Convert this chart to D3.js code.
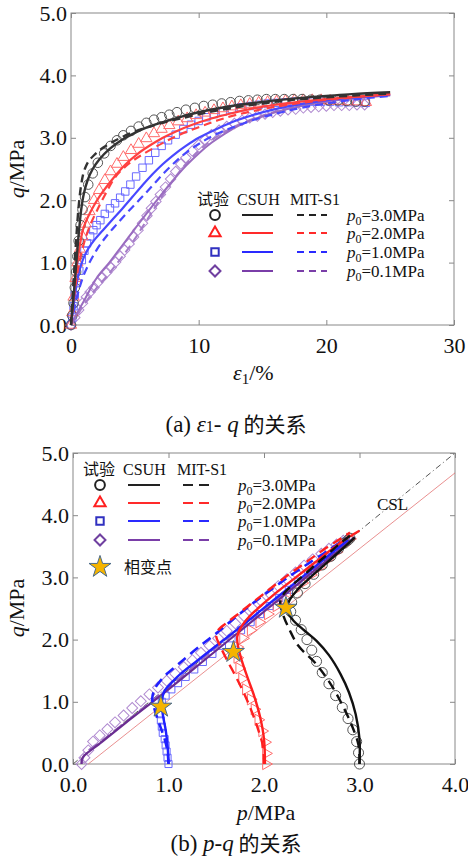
<!DOCTYPE html>
<html>
<head>
<meta charset="utf-8">
<script src="https://cdn.jsdelivr.net/npm/d3@7"></script>
<style>
body{margin:0;background:#fff}
</style>
</head>
<body>
<svg id="graph" width="468" height="860"></svg>
<script>
// ---------- panel (a): eps1 - q ----------
var aTicksX = [0,10,20,30]
var aTicksY = [0,1,2,3,4,5]

var aTest3 = [[0,0],[0.1,0.15],[0.2,0.35],[0.3,0.6],[0.4,0.85],[0.5,1.1],[0.6,1.35],[0.75,1.6],[0.9,1.85],[1.1,2.05],[1.35,2.25],[1.7,2.43],[2.1,2.6],[2.6,2.75],[3.1,2.87],[3.6,2.96],[4.1,3.04],[4.7,3.11],[5.3,3.18],[5.9,3.24],[6.5,3.29],[7.1,3.33],[7.7,3.37],[8.3,3.41],[9.0,3.45],[9.7,3.48],[10.4,3.51],[11.1,3.53],[11.8,3.55],[12.5,3.57],[13.2,3.59],[13.9,3.6],[14.6,3.61],[15.3,3.62],[16.0,3.62],[16.7,3.62],[17.4,3.62],[18.1,3.62],[18.8,3.61],[19.5,3.61],[20.2,3.6],[20.9,3.6],[21.6,3.59],[22.3,3.58],[23.0,3.58]]
var aTest2 = [[0,0],[0.1,0.2],[0.2,0.45],[0.35,0.75],[0.5,1.0],[0.7,1.22],[0.9,1.42],[1.15,1.62],[1.45,1.82],[1.8,2.0],[2.2,2.16],[2.65,2.32],[3.1,2.46],[3.6,2.58],[4.1,2.69],[4.7,2.8],[5.3,2.9],[5.9,2.99],[6.5,3.07],[7.1,3.14],[7.7,3.2],[8.4,3.26],[9.1,3.31],[9.8,3.36],[10.5,3.4],[11.2,3.44],[11.9,3.47],[12.6,3.5],[13.3,3.52],[14.0,3.54],[14.7,3.56],[15.4,3.57],[16.1,3.58],[16.8,3.59],[17.5,3.6],[18.2,3.6],[18.9,3.6],[19.6,3.6],[20.3,3.59],[21.0,3.59],[21.7,3.58],[22.4,3.58],[23.1,3.57]]
var aTest1 = [[0,0],[0.1,0.12],[0.2,0.3],[0.3,0.48],[0.45,0.67],[0.65,0.87],[0.85,1.04],[1.05,1.19],[1.25,1.31],[1.5,1.42],[1.75,1.52],[2.0,1.6],[2.3,1.68],[2.65,1.78],[3.05,1.87],[3.45,1.95],[3.85,2.04],[4.25,2.14],[4.65,2.25],[5.1,2.38],[5.6,2.52],[6.1,2.64],[6.6,2.76],[7.1,2.87],[7.6,2.96],[8.2,3.05],[8.8,3.14],[9.4,3.21],[10.0,3.27],[10.6,3.33],[11.2,3.38],[11.9,3.42],[12.6,3.46],[13.3,3.49],[14.0,3.51],[14.7,3.53],[15.4,3.55],[16.1,3.56],[16.8,3.57],[17.5,3.58],[18.2,3.58],[18.9,3.58],[19.6,3.58],[20.3,3.58],[21.0,3.57],[21.7,3.57],[22.4,3.57],[23.1,3.56]]
var aTest01 = [[0,0],[0.3,0.12],[0.6,0.24],[0.9,0.35],[1.2,0.45],[1.5,0.53],[1.8,0.6],[2.1,0.68],[2.45,0.76],[2.8,0.84],[3.15,0.92],[3.5,1.01],[3.85,1.1],[4.2,1.2],[4.55,1.3],[4.9,1.41],[5.25,1.52],[5.6,1.63],[5.95,1.75],[6.3,1.87],[6.65,1.98],[7.0,2.09],[7.4,2.21],[7.8,2.34],[8.2,2.46],[8.6,2.58],[9.0,2.68],[9.5,2.79],[10.0,2.89],[10.5,2.97],[11.0,3.05],[11.6,3.12],[12.2,3.18],[12.8,3.23],[13.4,3.28],[14.0,3.32],[14.6,3.35],[15.2,3.38],[15.8,3.41],[16.4,3.43],[17.0,3.45],[17.6,3.46],[18.2,3.48],[18.8,3.49],[19.4,3.5],[20.0,3.51],[20.6,3.52],[21.2,3.52],[21.8,3.52],[22.4,3.53],[23.0,3.53]]

var aCsuh3 = [[0,0],[0.2,0.45],[0.4,0.95],[0.6,1.45],[0.8,1.85],[1.0,2.1],[1.3,2.32],[1.7,2.5],[2.2,2.65],[3.0,2.82],[4.0,2.97],[5.0,3.08],[6.0,3.17],[7.0,3.24],[8.0,3.3],[9.0,3.36],[10.0,3.41],[12.0,3.49],[14.0,3.55],[16.0,3.6],[18.0,3.64],[20.0,3.67],[22.0,3.7],[25.0,3.73]]
var aMit3 = [[0,0],[0.2,0.7],[0.4,1.35],[0.6,1.9],[0.8,2.25],[1.0,2.45],[1.3,2.6],[1.8,2.72],[2.5,2.84],[3.5,2.96],[5.0,3.1],[7.0,3.23],[9.0,3.33],[11.0,3.42],[13.0,3.49],[15.0,3.55],[17.0,3.6],[20.0,3.65],[25.0,3.71]]
var aCsuh2 = [[0,0],[0.2,0.45],[0.4,0.85],[0.6,1.15],[0.8,1.4],[1.0,1.57],[1.3,1.72],[1.7,1.88],[2.2,2.05],[2.8,2.22],[3.5,2.4],[4.3,2.58],[5.2,2.74],[6.2,2.88],[7.2,3.0],[8.3,3.11],[9.5,3.21],[11.0,3.31],[12.5,3.39],[14.0,3.46],[16.0,3.53],[18.0,3.58],[20.0,3.62],[22.5,3.66],[25.0,3.7]]
var aMit2 = [[0,0],[0.3,0.55],[0.6,0.95],[1.0,1.3],[1.5,1.6],[2.0,1.82],[2.7,2.1],[3.5,2.38],[4.5,2.58],[5.5,2.72],[6.5,2.84],[7.5,2.95],[8.5,3.05],[10.0,3.17],[11.5,3.28],[13.0,3.37],[15.0,3.46],[17.0,3.53],[20.0,3.61],[25.0,3.7]]
var aCsuh1 = [[0,0],[0.2,0.3],[0.4,0.6],[0.6,0.82],[0.8,0.97],[1.0,1.08],[1.4,1.24],[1.9,1.38],[2.5,1.52],[3.2,1.68],[4.0,1.86],[4.8,2.05],[5.6,2.24],[6.4,2.42],[7.2,2.58],[8.0,2.72],[9.0,2.87],[10.0,3.0],[11.5,3.15],[13.0,3.28],[14.5,3.38],[16.0,3.46],[18.0,3.54],[20.0,3.6],[22.5,3.65],[25.0,3.69]]
var aMit1 = [[0,0],[0.3,0.3],[0.6,0.55],[1.0,0.8],[1.5,1.02],[2.0,1.2],[2.5,1.35],[3.0,1.48],[3.6,1.62],[4.3,1.78],[5.0,1.93],[5.7,2.08],[6.5,2.26],[7.3,2.44],[8.1,2.6],[9.0,2.76],[10.0,2.9],[11.0,3.02],[12.2,3.13],[13.5,3.23],[15.0,3.33],[16.5,3.41],[18.0,3.48],[20.0,3.55],[22.5,3.62],[25.0,3.67]]
var aCsuh01 = [[0,0],[0.5,0.2],[1.0,0.38],[2.0,0.75],[3.0,1.0],[4.0,1.27],[5.0,1.54],[6.0,1.81],[7.0,2.07],[8.0,2.32],[9.0,2.55],[10.0,2.75],[11.0,2.92],[12.0,3.06],[13.0,3.18],[14.5,3.31],[16.0,3.41],[18.0,3.51],[20.0,3.58],[22.5,3.64],[25.0,3.68]]
var aMit01 = [[0,0],[0.5,0.16],[1.0,0.32],[1.5,0.46],[2.0,0.59],[2.5,0.71],[3.0,0.83],[3.5,0.96],[4.0,1.09],[4.5,1.23],[5.0,1.38],[5.5,1.54],[6.0,1.7],[6.5,1.86],[7.0,2.02],[7.5,2.17],[8.0,2.32],[8.5,2.46],[9.0,2.58],[10.0,2.79],[11.0,2.96],[12.0,3.09],[13.0,3.2],[14.5,3.32],[16.0,3.42],[18.0,3.51],[20.0,3.58],[22.5,3.64],[25.0,3.68]]

// ---------- panel (b): p - q ----------
var bTicksX = [0,1,2,3,4]
var bTicksY = [0,1,2,3,4,5]

var bTest3 = [[3.0,0],[2.99,0.18],[2.97,0.36],[2.93,0.55],[2.88,0.73],[2.82,0.91],[2.75,1.1],[2.68,1.29],[2.61,1.47],[2.55,1.65],[2.5,1.83],[2.45,2.0],[2.39,2.16],[2.33,2.31],[2.28,2.45],[2.29,2.6],[2.35,2.75],[2.43,2.9],[2.52,3.05],[2.61,3.2],[2.7,3.34],[2.78,3.46],[2.84,3.55],[2.88,3.6],[2.9,3.63]]
var bTest2 = [[2.02,0],[2.02,0.17],[2.01,0.35],[1.98,0.53],[1.94,0.71],[1.9,0.88],[1.86,1.04],[1.81,1.2],[1.77,1.37],[1.74,1.54],[1.72,1.71],[1.72,1.88],[1.78,2.02],[1.86,2.15],[1.95,2.28],[2.04,2.41],[2.13,2.54],[2.22,2.66],[2.31,2.79],[2.4,2.91],[2.49,3.04],[2.58,3.16],[2.67,3.29],[2.76,3.41],[2.84,3.53],[2.9,3.62]]
var bTest1 = [[1.0,0],[0.99,0.1],[0.98,0.2],[0.97,0.3],[0.96,0.4],[0.94,0.5],[0.93,0.6],[0.92,0.7],[0.91,0.8],[0.91,0.9],[0.93,1.0],[0.97,1.1],[1.03,1.2],[1.1,1.3],[1.18,1.4],[1.27,1.52],[1.36,1.64],[1.46,1.77],[1.56,1.9],[1.66,2.02],[1.76,2.15],[1.86,2.28],[1.96,2.41],[2.06,2.54],[2.16,2.67],[2.26,2.8],[2.36,2.93],[2.46,3.06],[2.56,3.19],[2.66,3.32],[2.76,3.45],[2.86,3.58]]
var bTest01 = [[0.09,0],[0.12,0.1],[0.16,0.22],[0.21,0.36],[0.28,0.46],[0.36,0.56],[0.44,0.67],[0.53,0.78],[0.62,0.9],[0.71,1.01],[0.8,1.12],[0.89,1.23],[0.98,1.34],[1.07,1.45],[1.16,1.56],[1.25,1.67],[1.34,1.79],[1.43,1.9],[1.52,2.02],[1.61,2.14],[1.7,2.26],[1.79,2.38],[1.88,2.5],[1.97,2.62],[2.06,2.74],[2.15,2.86],[2.24,2.97],[2.33,3.08],[2.42,3.19],[2.51,3.29],[2.6,3.38],[2.68,3.46],[2.76,3.53],[2.83,3.59]]

var bCsuh3 = [[3.0,0],[3.0,0.4],[2.96,0.8],[2.89,1.15],[2.8,1.45],[2.68,1.75],[2.55,1.98],[2.42,2.15],[2.3,2.32],[2.24,2.48],[2.27,2.64],[2.35,2.8],[2.45,2.95],[2.58,3.13],[2.72,3.32],[2.85,3.5],[2.95,3.64]]
var bMit3 = [[3.0,0],[2.99,0.3],[2.92,0.62],[2.82,0.95],[2.7,1.28],[2.55,1.6],[2.36,1.9],[2.27,2.15],[2.2,2.4],[2.17,2.6],[2.2,2.72],[2.3,2.88],[2.42,3.04],[2.55,3.22],[2.68,3.39],[2.8,3.55],[2.9,3.67]]
var bCsuh2 = [[2.01,0],[2.0,0.4],[1.96,0.75],[1.9,1.08],[1.83,1.38],[1.77,1.65],[1.73,1.88],[1.72,2.05],[1.76,2.2],[1.84,2.36],[1.95,2.52],[2.1,2.72],[2.3,2.96],[2.5,3.2],[2.7,3.44],[2.88,3.64],[3.0,3.75]]
var bMit2 = [[2.0,0],[1.99,0.28],[1.94,0.55],[1.87,0.85],[1.79,1.14],[1.7,1.42],[1.61,1.68],[1.54,1.9],[1.5,2.05],[1.52,2.15],[1.6,2.26],[1.72,2.4],[1.85,2.56],[2.0,2.74],[2.2,2.98],[2.4,3.2],[2.6,3.42],[2.8,3.62],[2.9,3.72]]
var bCsuh1 = [[1.0,0],[0.99,0.3],[0.97,0.55],[0.94,0.8],[0.93,1.0],[0.96,1.18],[1.04,1.32],[1.15,1.48],[1.3,1.66],[1.5,1.9],[1.75,2.2],[2.0,2.51],[2.25,2.82],[2.5,3.13],[2.7,3.38],[2.88,3.6]]
var bMit1 = [[1.0,0],[0.99,0.2],[0.96,0.4],[0.91,0.62],[0.86,0.85],[0.83,1.05],[0.86,1.22],[0.95,1.4],[1.1,1.6],[1.3,1.86],[1.5,2.1],[1.75,2.42],[2.0,2.72],[2.25,3.0],[2.5,3.26],[2.7,3.46],[2.85,3.62]]
var bCsuh01 = [[0.09,0],[0.1,0.1],[0.3,0.35],[0.6,0.72],[1.0,1.2],[1.4,1.7],[1.8,2.2],[2.2,2.7],[2.6,3.2],[2.85,3.52],[2.95,3.65]]
var bMit01 = [[0.09,0],[0.12,0.15],[0.35,0.43],[0.7,0.86],[1.1,1.36],[1.5,1.87],[1.9,2.37],[2.3,2.86],[2.7,3.34],[2.9,3.6]]

var bPhasePoints = [[0.92,0.92],[1.68,1.8],[2.23,2.51]]
var bCslBlack = [[0,0],[4.0,5.0]]
var bCslRed = [[0.16,0],[4.0,4.68]]

var legendRows = ["3.0","2.0","1.0","0.1"]
var legendHead = ["试验","CSUH","MIT-S1"]

// ---------- styles ----------
var serif = "'Liberation Serif','Times New Roman',Times,serif"
var cjk = "'Noto Sans CJK SC','Noto Sans CJK JP',sans-serif"
var lineColor = ["#222","#ff2a2a","#2a2aff","#7a3ea8"]
var markColor = ["#555","#ff6a6a","#6a6aff","#b08ad0"]
var legMark = ["#222","#ff2020","#3030c0","#7040a0"]

var svg = d3.select("#graph")

var shapePath = function(shape,size)
{
    if(shape=="circle") return d3.symbol(d3.symbolCircle,size)()
    if(shape=="square") return d3.symbol(d3.symbolSquare,size)()
    if(shape=="diamond") return d3.symbol(d3.symbolSquare,size)()
    return d3.symbol(d3.symbolTriangle,size)()
}
var shapeRot = function(shape)
{
    if(shape=="diamond") return 45
    if(shape=="tright") return 90
    return 0
}

var drawMarkers = function(g,data,shape,size,color,xScale,yScale,sw)
{
    g.append("g")
    .selectAll("path")
    .data(data)
    .enter()
    .append("path")
    .attr("d",shapePath(shape,size))
    .attr("transform",function(d)
    {
        return "translate("+xScale(d[0])+","+yScale(d[1])+") rotate("+shapeRot(shape)+")"
    })
    .attr("fill","none")
    .attr("stroke",color)
    .attr("stroke-width",sw)
}

var drawLine = function(g,data,color,width,dash,xScale,yScale)
{
    var line = d3.line()
    .x(function(d){return xScale(d[0])})
    .y(function(d){return yScale(d[1])})
    .curve(d3.curveCatmullRom)
    g.append("path")
    .datum(data)
    .attr("d",line)
    .attr("fill","none")
    .attr("stroke",color)
    .attr("stroke-width",width)
    .attr("stroke-dasharray",dash)
}

var drawFrame = function(xScale,yScale,xTicks,yTicks,fmtX)
{
    var x0=xScale.range()[0],x1=xScale.range()[1],y0=yScale.range()[0],y1=yScale.range()[1]
    var g = svg.append("g").attr("class","axes")
    g.append("g").attr("transform","translate(0,"+y0+")")
    .call(d3.axisBottom(xScale).tickValues(xTicks).tickSize(-5).tickSizeOuter(0).tickPadding(12).tickFormat(fmtX))
    g.append("g").attr("transform","translate(0,"+y1+")")
    .call(d3.axisTop(xScale).tickValues(xTicks).tickSize(-5).tickSizeOuter(0).tickFormat(""))
    g.append("g").attr("transform","translate("+x0+",0)")
    .call(d3.axisLeft(yScale).tickValues(yTicks).tickSize(-5).tickSizeOuter(0).tickPadding(4).tickFormat(d3.format(".1f")))
    g.append("g").attr("transform","translate("+x1+",0)")
    .call(d3.axisRight(yScale).tickValues(yTicks).tickSize(-5).tickSizeOuter(0).tickFormat(""))
    g.selectAll(".domain").remove()
    g.selectAll(".tick line").attr("stroke","#888")
    g.selectAll(".tick text").attr("font-size",22).attr("fill","#111")
    g.append("rect").attr("x",x0).attr("y",y1).attr("width",x1-x0).attr("height",y0-y1)
    .attr("fill","none").attr("stroke","#888").attr("stroke-width",1)
}

var drawLegend = function(ys,headY,headX,symX,solidX,dashX,textX,shapes,dash)
{
    var g = svg.append("g")
    legendHead.forEach(function(h,i)
    {
        g.append("text").attr("x",headX[i]).attr("y",headY).attr("font-size",16)
        .attr("class",i==0?"cjk":null).text(h)
    })
    legendRows.forEach(function(r,i)
    {
        var y = ys[i]
        g.append("path").attr("d",shapePath(shapes[i],shapes[i]=="circle"?75:(shapes[i]=="diamond"?60:55)))
        .attr("transform","translate("+symX+","+y+") rotate("+(shapes[i]=="diamond"?45:0)+")")
        .attr("fill","none").attr("stroke",legMark[i]).attr("stroke-width",2)
        g.append("line").attr("x1",solidX[0]).attr("x2",solidX[1]).attr("y1",y).attr("y2",y)
        .attr("stroke",lineColor[i]).attr("stroke-width",2)
        g.append("line").attr("x1",dashX[0]).attr("x2",dashX[1]).attr("y1",y).attr("y2",y)
        .attr("stroke",lineColor[i]).attr("stroke-width",2).attr("stroke-dasharray",dash)
        var t = g.append("text").attr("x",textX).attr("y",y+6).attr("font-size",17)
        t.append("tspan").attr("font-style","italic").text("p")
        t.append("tspan").attr("font-size",12).attr("dy",4).text("0")
        t.append("tspan").attr("dy",-4).text("="+r+"MPa")
    })
    return g
}

// ---------- draw panel (a) ----------
var initA = function()
{
    var xScale = d3.scaleLinear().domain([0,30]).range([71,454])
    var yScale = d3.scaleLinear().domain([0,5]).range([325,13])
    drawFrame(xScale,yScale,aTicksX,aTicksY,d3.format("d"))

    var g = svg.append("g")
    drawMarkers(g,aTest01,"diamond",55,markColor[3],xScale,yScale,1)
    drawMarkers(g,aTest1,"square",55,markColor[2],xScale,yScale,1)
    drawMarkers(g,aTest2,"triangle",55,markColor[1],xScale,yScale,1)
    drawMarkers(g,aTest3,"circle",72,markColor[0],xScale,yScale,1)

    var dash="8,5"
    drawLine(g,aMit01,"#a57cc8",2,dash,xScale,yScale)
    drawLine(g,aCsuh01,"#9a6cc0",2,null,xScale,yScale)
    drawLine(g,aMit1,"#4848ff",2.2,dash,xScale,yScale)
    drawLine(g,aCsuh1,"#4848ff",2.2,null,xScale,yScale)
    drawLine(g,aMit2,"#ff4040",2.2,dash,xScale,yScale)
    drawLine(g,aCsuh2,"#ff4040",2.2,null,xScale,yScale)
    drawLine(g,aMit3,"#333",2.4,dash,xScale,yScale)
    drawLine(g,aCsuh3,"#333",2.4,null,xScale,yScale)

    drawLegend([215,233,252,271],205,[197,237,290],215,[242,273],[297,327],347,
        ["circle","triangle","square","diamond"],"7,5")

    // axis titles
    svg.append("text").attr("transform","translate(24,169) rotate(-90)").attr("text-anchor","middle")
    .attr("font-size",22).html('<tspan font-style="italic">q</tspan>/MPa')
    var t = svg.append("text").attr("x",233).attr("y",380).attr("font-size",22)
    t.append("tspan").attr("font-style","italic").text("ε")
    t.append("tspan").attr("font-size",15).attr("dy",4).text("1")
    t.append("tspan").attr("dy",-4).text("/%")

    var c = svg.append("text").attr("x",236).attr("y",432).attr("text-anchor","middle").attr("font-size",23)
    c.append("tspan").text("(a) ")
    c.append("tspan").attr("font-style","italic").text("ε")
    c.append("tspan").attr("font-size",16).text("1")
    c.append("tspan").text("- ")
    c.append("tspan").attr("font-style","italic").text("q")
    c.append("tspan").attr("class","cjk").attr("font-size",21).text(" 的关系")
}

// ---------- draw panel (b) ----------
var initB = function()
{
    var xScale = d3.scaleLinear().domain([0,4]).range([73,455])
    var yScale = d3.scaleLinear().domain([0,5]).range([764,453])
    drawFrame(xScale,yScale,bTicksX,bTicksY,d3.format(".1f"))

    var g = svg.append("g")
    drawLine(g,bCslBlack,"#555",1,"6,3,1,3",xScale,yScale)
    drawLine(g,bCslRed,"#e06060",0.7,null,xScale,yScale)

    drawMarkers(g,bTest01,"diamond",60,markColor[3],xScale,yScale,1)
    drawMarkers(g,bTest1,"square",50,markColor[2],xScale,yScale,1)
    drawMarkers(g,bTest2,"tright",55,markColor[1],xScale,yScale,1)
    drawMarkers(g,bTest3,"circle",80,markColor[0],xScale,yScale,1)

    var dash="10,6"
    drawLine(g,bMit01,"#9a6cc0",2,dash,xScale,yScale)
    drawLine(g,bCsuh01,"#6a2c91",2.2,null,xScale,yScale)
    drawLine(g,bMit1,"#2020ff",2.6,dash,xScale,yScale)
    drawLine(g,bCsuh1,"#2020ff",2.4,null,xScale,yScale)
    drawLine(g,bMit2,"#ff2020",2.4,dash,xScale,yScale)
    drawLine(g,bCsuh2,"#ff2020",2.4,null,xScale,yScale)
    drawLine(g,bMit3,"#111",2.4,dash,xScale,yScale)
    drawLine(g,bCsuh3,"#111",2.4,null,xScale,yScale)

    g.append("g").selectAll("path")
    .data(bPhasePoints)
    .enter()
    .append("path")
    .attr("d",d3.symbol(d3.symbolStar,150)())
    .attr("transform",function(d){return "translate("+xScale(d[0])+","+yScale(d[1])+")"})
    .attr("fill","#f5b400")
    .attr("stroke","#4a6a8a")
    .attr("stroke-width",1)

    svg.append("text").attr("x",377).attr("y",510).attr("font-size",17).text("CSL")

    drawLegend([485,503,521,540],475,[83,123,177],100,[128,160],[183,213],238,
        ["circle","triangle","square","diamond"],"10,6")
    svg.append("path").attr("d",d3.symbol(d3.symbolStar,150)())
    .attr("transform","translate(100,567)")
    .attr("fill","#f5b400").attr("stroke","#4a6a8a").attr("stroke-width",1)
    svg.append("text").attr("x",124).attr("y",573).attr("font-size",16).attr("class","cjk").text("相变点")

    svg.append("text").attr("transform","translate(24,608) rotate(-90)").attr("text-anchor","middle")
    .attr("font-size",22).html('<tspan font-style="italic">q</tspan>/MPa')
    svg.append("text").attr("x",266).attr("y",820).attr("text-anchor","middle").attr("font-size",22)
    .html('<tspan font-style="italic">p</tspan>/MPa')

    var c = svg.append("text").attr("x",236).attr("y",851).attr("text-anchor","middle").attr("font-size",23)
    c.append("tspan").text("(b) ")
    c.append("tspan").attr("font-style","italic").text("p-q")
    c.append("tspan").attr("class","cjk").attr("font-size",21).text(" 的关系")
}

initA()
initB()

// fonts: serif for latin, CJK font for Chinese
svg.selectAll("text").style("font-family",serif).style("fill","#111")
svg.selectAll(".cjk").style("font-family",cjk)
</script>
</body>
</html>
